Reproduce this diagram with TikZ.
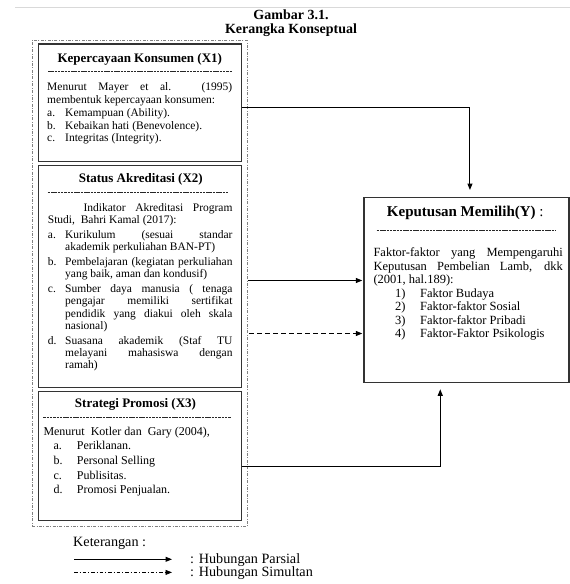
\documentclass[tikz,border=0pt]{standalone}
\usepackage{fontspec}
\setmainfont{Liberation Serif}
\usetikzlibrary{arrows.meta,calc,positioning}

% justified line and list label
\newcommand{\just}[2]{\makebox[#1][s]{#2}}
\newcommand{\lab}[2]{\makebox[#1][l]{#2}}

\begin{document}
\begin{tikzpicture}[x=1pt,y=-1pt,
    xbox/.style={draw=black!80, line width=1.3pt, inner sep=0pt, anchor=north west},
    group/.style={draw=black!50, line width=0.9pt, dash pattern=on 3pt off 1.5pt on 0.8pt off 1.5pt, inner sep=0pt, anchor=north west},
    ttl/.style={font=\bfseries\fontsize{13}{15}\selectfont, anchor=base, inner sep=0pt},
    body/.style={anchor=north west, inner sep=0pt, align=left},
    sep/.style={black!85, line width=0.6pt, dash pattern=on 2.5pt off 0.8pt},
    parsial/.style={-{Triangle[length=6.5pt,width=5pt]}, line width=1pt},
    simultan/.style={parsial, dash pattern=on 5pt off 3pt},
    legsim/.style={parsial, line width=0.7pt, dash pattern=on 3.5pt off 2pt on 1pt off 2pt},
    legend/.style={font=\fontsize{14.2}{16}\selectfont, anchor=base west, inner sep=0pt}
]
\useasboundingbox (0,0) rectangle (570,584);

% page edge
\draw[black!15, line width=0.8pt] (15,7.3) -- (570,7.3);

% Caption
\node[ttl, font=\bfseries\fontsize{14}{16}\selectfont] (cap1) at (291,19.5) {Gambar 3.1.};
\node[ttl, font=\bfseries\fontsize{14}{16}\selectfont] (cap2) at (291,33.5) {Kerangka Konseptual};

% Independent variables
\node[group, minimum width=215pt, minimum height=486pt] (grp) at (31.7,40) {};
\node[xbox, minimum width=203pt, minimum height=117.7pt] (x1) at (37.7,43.3) {};
\node[xbox, minimum width=203pt, minimum height=222pt] (x2) at (37.7,165) {};
\node[xbox, minimum width=203pt, minimum height=129.3pt] (x3) at (37.7,390.7) {};

% X1
\node[ttl] (x1t) at (139.8,62.3) {Kepercayaan Konsumen (X1)};
\draw[sep] (48,71.7) -- (232,71.7);
\node[body, font=\fontsize{11.5}{12.75}\selectfont] (x1b) at (47,81.7) {%
\strut\just{185pt}{Menurut Mayer et al. (1995)}\\
membentuk kepercayaan konsumen:\\
\lab{18pt}{a.}Kemampuan (Ability).\\
\lab{18pt}{b.}Kebaikan hati (Benevolence).\\
\lab{18pt}{c.}Integritas (Integrity).};

% X2
\node[ttl] (x2t) at (140.8,182) {Status Akreditasi (X2)};
\draw[sep] (47.7,192) -- (227.7,192);
\node[body, font=\fontsize{11.5}{12.3}\selectfont] (x2b) at (47.7,202.4) {%
\strut\hspace*{35.6pt}\just{149pt}{Indikator Akreditasi Program}\\
Studi,\ \ Bahri Kamal (2017):\\[2.5pt]
\lab{17.3pt}{a.}\just{167.3pt}{Kurikulum (sesuai standar}\\
\hspace*{17.3pt}akademik perkuliahan BAN-PT)\\[2.5pt]
\lab{17.3pt}{b.}\just{167.3pt}{Pembelajaran (kegiatan perkuliahan}\\
\hspace*{17.3pt}yang baik, aman dan kondusif)\\[2.5pt]
\lab{17.3pt}{c.}\just{167.3pt}{Sumber daya manusia ( tenaga}\\
\hspace*{17.3pt}\just{167.3pt}{pengajar memiliki sertifikat}\\
\hspace*{17.3pt}\just{167.3pt}{pendidik yang diakui oleh skala}\\
\hspace*{17.3pt}nasional)\\[2.5pt]
\lab{17.3pt}{d.}\just{167.3pt}{Suasana akademik (Staf TU}\\
\hspace*{17.3pt}\just{167.3pt}{melayani mahasiswa dengan}\\
\hspace*{17.3pt}ramah)};

% X3
\node[ttl] (x3t) at (135.5,407) {Strategi Promosi (X3)};
\draw[sep] (43.3,417) -- (231,417);
\node[body, font=\fontsize{12}{14.6}\selectfont] (x3b) at (43.3,424.9) {%
\strut Menurut\ \ Kotler dan\ \ Gary (2004),\\
\hspace*{10pt}\lab{23.4pt}{a.}Periklanan.\\
\hspace*{10pt}\lab{23.4pt}{b.}Personal Selling\\
\hspace*{10pt}\lab{23.4pt}{c.}Publisitas.\\
\hspace*{10pt}\lab{23.4pt}{d.}Promosi Penjualan.};

% Dependent variable
\node[xbox, minimum width=205pt, minimum height=185pt] (y) at (363.3,197) {};
\node[ttl, font=\fontsize{15}{17}\selectfont] (yt) at (465.3,216.7) {\textbf{Keputusan Memilih(Y)} :};
\draw[sep] (376.7,230.7) -- (555,230.7);
\node[body, font=\fontsize{12.5}{13.55}\selectfont] (yb) at (373.3,246.8) {%
\strut\just{189.4pt}{Faktor-faktor yang Mempengaruhi}\\
\just{189.4pt}{Keputusan Pembelian Lamb, dkk}\\
(2001, hal.189):\\
\hspace*{21.7pt}\lab{25pt}{1)}Faktor Budaya\\
\hspace*{21.7pt}\lab{25pt}{2)}Faktor-faktor Sosial\\
\hspace*{21.7pt}\lab{25pt}{3)}Faktor-faktor Pribadi\\
\hspace*{21.7pt}\lab{25pt}{4)}Faktor-Faktor Psikologis};

% Arrows
\coordinate (r1) at (0,107.7);
\coordinate (r2) at (0,280.5);
\coordinate (r3) at (0,333.5);
\coordinate (r4) at (0,466);
\draw[parsial, shorten >=7pt] (x1.east |- r1) -| ($(y.north)+(3.5,0)$);
\draw[parsial, shorten >=1pt] (grp.east |- r2) -- (y.west |- r2);
\draw[simultan, shorten >=1pt] ([xshift=1.5pt]grp.east |- r3) -- (y.west |- r3);
\draw[parsial, shorten >=6pt] (x3.east |- r4) -| ($(y.south)+(-26.2,0)$);

% Legend
\node[legend] (ket) at (73,546) {Keterangan :};
\node[legend] (lp) at (190,563.3) {: Hubungan Parsial};
\node[legend] (ls) at (190,576.6) {: Hubungan Simultan};
\coordinate (lp0) at (74,559.3);
\coordinate (lp1) at (172,559.3);
\coordinate (ls0) at (74,572.4);
\coordinate (ls1) at (172,572.4);
\draw[parsial] (lp0) -- (lp1);
\draw[legsim] (ls0) -- (ls1);

\end{tikzpicture}
\end{document}
